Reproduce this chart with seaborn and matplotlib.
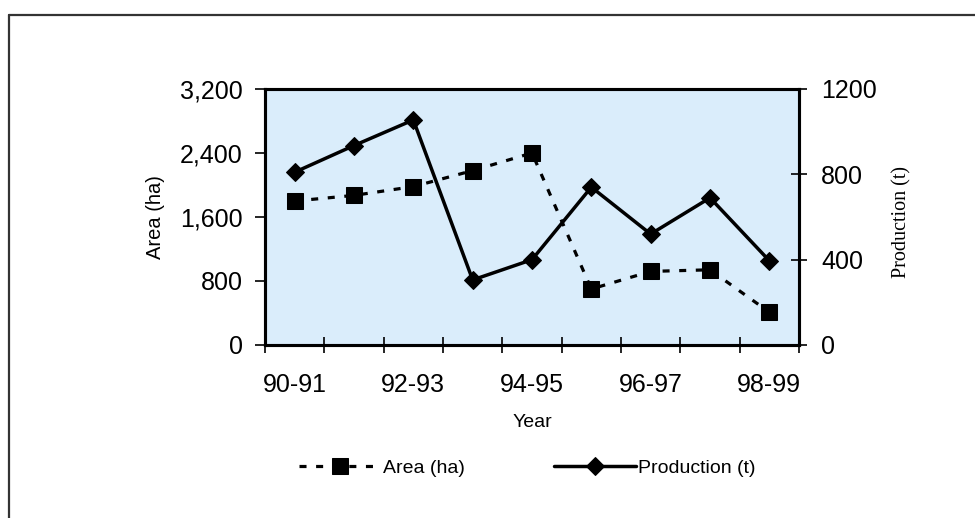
import matplotlib
matplotlib.use("Agg")
import matplotlib.pyplot as plt
from matplotlib.lines import Line2D
from matplotlib.ticker import FixedLocator, NullFormatter, FixedFormatter, StrMethodFormatter
import seaborn as sns
import pandas as pd

# Crop seasons and the two series
years = ["90-91", "91-92", "92-93", "93-94", "94-95", "95-96", "96-97", "97-98", "98-99"]
area_ha = [1800, 1870, 1980, 2180, 2400, 700, 920, 940, 410]
production_t = [810, 935, 1055, 305, 400, 740, 520, 690, 395]

area_ticks = [0, 800, 1600, 2400, 3200]
prod_ticks = [0, 400, 800, 1200]
labelled_years = ["90-91", "92-93", "94-95", "96-97", "98-99"]

df = pd.DataFrame({"Year": years, "Area": area_ha, "Production": production_t})
df["pos"] = range(len(years))

sns.set_theme(style="white")
plt.rcParams["font.family"] = ["Liberation Sans", "DejaVu Sans"]

fig = plt.figure(figsize=(9.75, 5.18), dpi=100)
ax = fig.add_axes([265 / 975, 1 - 345 / 518, (799 - 265) / 975, (345 - 89) / 518])
ax.set_facecolor("#DAEDFB")
ax2 = ax.twinx()

sns.lineplot(data=df, x="pos", y="Area", ax=ax, color="black", lw=2.3,
             marker="s", markersize=12, markeredgecolor="black",
             dashes=False, label="Area (ha)", legend=False)
ax.lines[0].set_dashes((2.2, 3.0))

sns.lineplot(data=df, x="pos", y="Production", ax=ax2, color="black", lw=2.5,
             marker="D", markersize=9.5, markeredgecolor="black",
             label="Production (t)", legend=False)

# x axis: tick marks between seasons, labels on every other season
n = len(years)
ax.set_xlim(-0.5, n - 0.5)
ax.xaxis.set_major_locator(FixedLocator([i - 0.5 for i in range(n + 1)]))
ax.xaxis.set_major_formatter(NullFormatter())
lab_pos = [years.index(y) for y in labelled_years]
ax.xaxis.set_minor_locator(FixedLocator(lab_pos))
ax.xaxis.set_minor_formatter(FixedFormatter(labelled_years))
ax.tick_params(axis="x", which="major", direction="inout", length=12, width=1.2,
               color="black", bottom=True)
ax.tick_params(axis="x", which="minor", length=0, pad=20, labelsize=18,
               labelcolor="black", bottom=True)

ax.set_ylim(0, 3200)
ax.set_yticks(area_ticks)
ax.yaxis.set_major_formatter(StrMethodFormatter("{x:,.0f}"))
ax.tick_params(axis="y", direction="out", length=7, width=1.2, color="black",
               labelsize=18, pad=9, left=True, labelcolor="black")

ax2.set_ylim(0, 1200)
ax2.set_yticks(prod_ticks)
ax2.tick_params(axis="y", direction="inout", length=12, width=1.2, color="black",
                labelsize=18, pad=10, right=True, labelcolor="black")
ax2.grid(False)
ax.grid(False)

for a in (ax, ax2):
    for s in a.spines.values():
        s.set_color("black")
        s.set_linewidth(2.2)
        s.set_visible(True)

ax.set_xlabel("Year", fontsize=14, color="black")
ax.xaxis.set_label_coords(0.5, -0.27)
ax.set_ylabel("Area (ha)", fontsize=14.5, color="black")
ax.yaxis.set_label_coords(-0.187, 0.5)
ax2.set_ylabel("Production (t)", fontsize=14.5, color="black",
               family=["Liberation Serif", "DejaVu Serif"], rotation=90)
ax2.yaxis.set_label_coords(1.175, 0.48)

handles = ax.get_lines()[:1] + ax2.get_lines()[:1]
fig.legend(handles, ["Area (ha)", "Production (t)"], loc="center",
           bbox_to_anchor=(0.541, 0.096), ncol=2, frameon=False, fontsize=14,
           handlelength=4.2, handletextpad=0.1, columnspacing=4.6,
           labelcolor="black")

# page frame around the figure
fig.add_artist(Line2D([9 / 975, 1.0], [1 - 15 / 518, 1 - 15 / 518],
                      transform=fig.transFigure, color="#333333", lw=1.6))
fig.add_artist(Line2D([9 / 975, 9 / 975], [0.0, 1 - 15 / 518],
                      transform=fig.transFigure, color="#333333", lw=1.6))

fig.savefig("out.png", dpi=100, facecolor="white")
